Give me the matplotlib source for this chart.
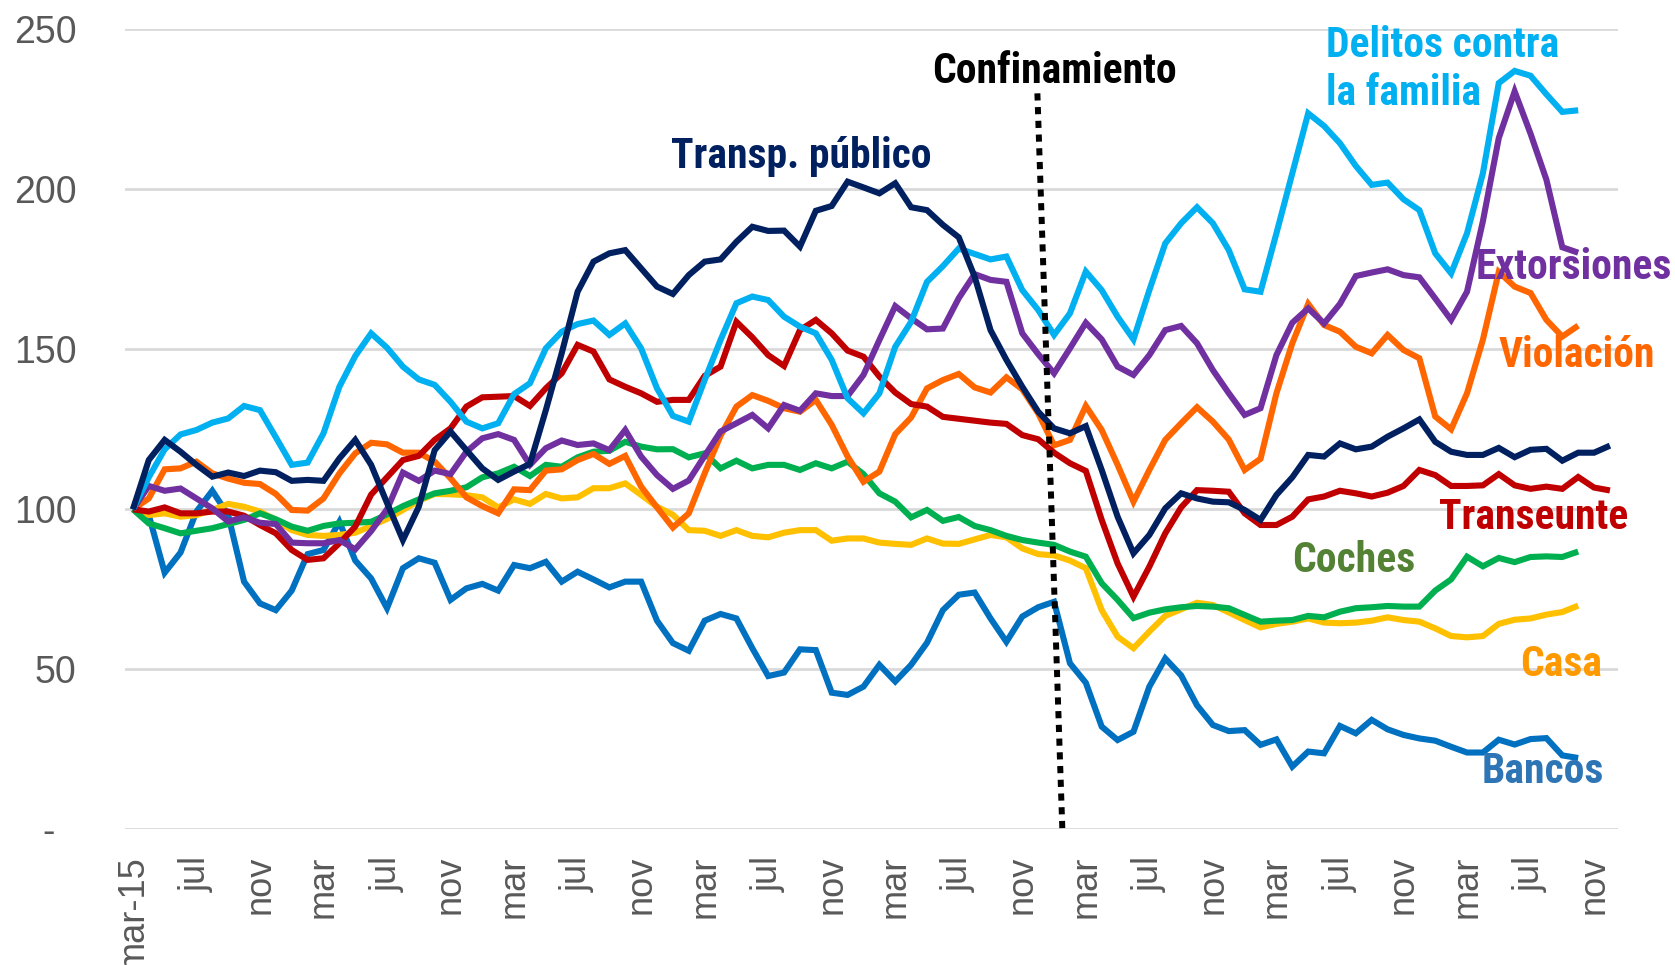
import matplotlib
matplotlib.use("Agg")
import matplotlib.pyplot as plt

# indice (mar-15 = 100), datos mensuales mar-15 ... dic-22
tick_labels = ["mar-15", "jul", "nov", "mar", "jul", "nov", "mar", "jul", "nov",
               "mar", "jul", "nov", "mar", "jul", "nov", "mar", "jul", "nov",
               "mar", "jul", "nov", "mar", "jul", "nov"]
n_categories = 94

transp_publico = [
    100, 115.4, 121.7, 118, 113.9, 110.2, 111.5, 110.4, 112.1, 111.6,
    108.9, 109.2, 108.9, 115.9, 121.7, 113.9, 102, 90.4, 100.8, 118.5,
    124.3, 118.5, 112.8, 109.2, 111.8, 114.2, 131, 148.8, 168, 177.4,
    180, 181, 175.3, 169.6, 167.3, 173.2, 177.4, 178.1, 183.6, 188.3,
    187, 187.1, 182.1, 193.3, 194.8, 202.4, 200.6, 198.75, 201.9, 194.4,
    193.5, 188.9, 185, 172.7, 156, 146.7, 138.3, 130.5, 125.3, 123.75,
    126, 112.3, 97.7, 86.25, 92, 100.3, 105, 103.4, 102.4, 102.2,
    99.8, 96.7, 104.5, 110, 117, 116.5, 120.6, 118.75, 119.6, 122.7,
    125.3, 128.1, 121.1, 118, 117, 117, 119.2, 116.3, 118.6, 118.9,
    115.2, 117.7, 117.7, 119.9]

transeunte = [
    100, 99.3, 100.6, 98.75, 98.75, 99.3, 99.3, 98, 95.1, 92.5,
    87.3, 84.2, 84.7, 89.4, 94.6, 104.6, 110, 115.4, 116.7, 121.7,
    125.3, 132.1, 135, 135.2, 135.4, 132.3, 137.8, 142.5, 151.4, 149.3,
    140.6, 138.3, 136.25, 133.6, 134.2, 134.2, 141.7, 144.6, 158.6, 153.75,
    148.2, 144.8, 156, 159.2, 155, 149.6, 147.7, 141.5, 136.5, 132.9,
    132.1, 128.9, 128.3, 127.7, 127.1, 126.7, 123.2, 121.9, 117.7, 114.4,
    112, 96.7, 83.1, 72.7, 82.1, 92.5, 100.6, 106, 105.8, 105.5,
    98.75, 95.1, 95.1, 97.7, 103.1, 104, 105.8, 105, 104, 105.2,
    107.3, 112.3, 110.7, 107.3, 107.3, 107.5, 111, 107.5, 106.4, 107.1,
    106.4, 110.1, 106.8, 105.9]

delitos_familia = [
    100, 110, 118.75, 123.4, 124.8, 127.1, 128.4, 132.3, 131, 122.5,
    113.9, 114.6, 123.75, 138.3, 147.9, 155, 150.5, 144.6, 140.6, 138.9,
    133.6, 127.4, 125.3, 126.9, 136, 139.4, 150.3, 155.5, 157.9, 159,
    154.5, 158.1, 150.3, 137.8, 129.2, 127.4, 140.4, 152.9, 164.4, 166.5,
    165.4, 160.2, 157.1, 155, 146.7, 134.7, 130, 136.25, 150.8, 158.6,
    171.1, 176, 181.5, 179.8, 178.1, 179, 168.5, 162.3, 154.5, 161.25,
    174.3, 168.5, 160.2, 153.1, 168.5, 183.1, 189.4, 194.4, 189.4, 181,
    168.75, 168, 186.25, 205, 223.75, 219.8, 214.4, 207.3, 201.4, 202.1,
    196.9, 193.5, 180, 173.75, 186.25, 205, 233.2, 237, 235.5, 229.7,
    224.2, 224.7]

extorsiones = [
    100, 107.3, 105.8, 106.5, 103.4, 100.3, 96.2, 97.5, 95.8, 95.4,
    89.6, 89.4, 89.4, 90.4, 87.5, 93.2, 100, 111.5, 108.9, 112.1,
    111, 118, 122.2, 123.5, 121.7, 113.9, 119.1, 121.5, 120.1, 120.6,
    118.5, 124.8, 116.5, 110.7, 106.4, 109, 116.7, 124.3, 126.9, 129.5,
    125.3, 132.6, 130.8, 136.25, 135.4, 135.4, 142, 152.9, 163.5, 159.7,
    156.25, 156.5, 166, 173.5, 171.7, 171.1, 155, 148.5, 142.5, 150.3,
    158.3, 153.1, 144.6, 142, 148.2, 156, 157.3, 151.9, 143.5, 136.3,
    129.5, 131.6, 148.2, 158.3, 162.8, 158.1, 164.2, 172.9, 174, 175,
    173.2, 172.5, 165.9, 159.2, 168, 190, 216, 230.6, 217.4, 203,
    181.9, 180.2]

violacion = [
    100, 103.4, 112.5, 112.8, 114.9, 111.25, 109.6, 108.3, 107.9, 104.8,
    99.8, 99.6, 103.4, 111.2, 117.5, 120.8, 120.3, 117.7, 117.7, 114.9,
    109.7, 103.75, 101, 98.75, 106.25, 106, 112.1, 112.5, 115.4, 117.3,
    114.2, 116.7, 107.1, 100.6, 94.3, 98.75, 111.25, 123, 132.1, 135.7,
    133.9, 131.6, 130.5, 134.2, 126.4, 116.5, 108.6, 111.8, 123.5, 128.7,
    137.8, 140.4, 142.3, 138.1, 136.5, 141.25, 137.5, 130, 120, 121.7,
    132.3, 124.8, 113.9, 102.4, 112.3, 121.7, 126.9, 131.9, 127.4, 121.8,
    112.3, 115.8, 136.25, 151.9, 164.2, 157.6, 155.5, 150.8, 148.75, 154.5,
    149.8, 147.2, 129, 125, 136.25, 153, 174.2, 169.6, 167.6, 159.2,
    154, 157.4]

coches = [
    100, 95.6, 94.1, 92.5, 93.3, 94.1, 95.4, 96.7, 98.75, 96.9,
    94.6, 93.3, 94.8, 95.6, 95.8, 96.1, 98.4, 101, 103.1, 105,
    105.8, 106.9, 110, 111.25, 113.3, 110.4, 113.9, 113.3, 116.25, 118,
    118.3, 121.1, 119.6, 118.75, 118.8, 116.25, 117.5, 112.8, 115.2, 112.8,
    113.9, 113.9, 112.3, 114.4, 112.8, 114.9, 111, 105, 102.4, 97.5,
    99.8, 96.4, 97.6, 94.8, 93.5, 91.7, 90.4, 89.6, 88.9, 86.8,
    85.2, 76.9, 71.7, 66, 67.7, 68.75, 69.4, 69.8, 69.6, 69.1,
    67, 64.9, 65.2, 65.4, 66.7, 66.25, 68, 69.1, 69.4, 69.8,
    69.6, 69.6, 74.6, 78.1, 85.2, 82.2, 84.8, 83.5, 85.1, 85.3,
    85.1, 86.8]

casa = [
    100, 98.2, 98.75, 97.7, 98.2, 99.8, 101.7, 100.8, 99.3, 96.7,
    93.5, 92, 91.7, 92, 92.7, 94.8, 97, 99.8, 102.7, 104.8,
    104.7, 104.4, 103.75, 100.6, 103.1, 101.7, 104.8, 103.4, 103.75, 106.6,
    106.6, 108.1, 104.5, 100.8, 98.3, 93.5, 93.3, 91.7, 93.5, 91.7,
    91.25, 92.7, 93.5, 93.5, 90.2, 90.9, 90.9, 89.6, 89.2, 88.9,
    90.9, 89.3, 89.2, 90.6, 92, 91.25, 87.8, 86, 85.6, 84,
    81.6, 68.5, 60.2, 56.6, 61.8, 66.7, 68.75, 70.8, 70.1, 67.8,
    65.4, 63.1, 64.2, 64.9, 65.9, 64.6, 64.4, 64.6, 65.2, 66.25,
    65.4, 64.9, 62.8, 60.4, 60, 60.4, 64.2, 65.5, 65.9, 67.1,
    67.9, 69.9]

bancos = [
    100, 98.2, 80.2, 86.5, 99.3, 105.8, 98.2, 77.4, 70.6, 68.5,
    74.6, 86, 87.3, 96.1, 84, 78.4, 69.1, 81.6, 84.7, 83.3,
    71.7, 75.3, 76.7, 74.6, 82.6, 81.6, 83.6, 77.4, 80.5, 78.1,
    75.6, 77.4, 77.4, 65.2, 58.2, 55.8, 65.2, 67.3, 65.9, 56.6,
    47.9, 49, 56.25, 56, 42.7, 42, 44.6, 51.4, 46.2, 51.4,
    58.3, 68.5, 73.3, 74, 65.9, 58.6, 66.5, 69.4, 71.1, 51.9,
    45.8, 32.1, 27.9, 30.5, 44.6, 53.4, 48.1, 38.75, 32.6, 30.7,
    31, 26.4, 28.1, 19.6, 24.3, 23.75, 32.3, 30, 34.2, 31.25,
    29.5, 28.4, 27.7, 25.8, 24, 24, 28, 26.5, 28.2, 28.5,
    23.1, 22.3]

series = [
    # (datos, color linea, etiqueta, color texto, x texto, y texto, alineacion)
    (bancos, "#0070C0", "Bancos", "#2E75B6", 88.8, 18.2, "center"),
    (casa, "#FFC000", "Casa", "#FF9900", 89.9, 51.5, "center"),
    (coches, "#00B050", "Coches", "#548235", 76.9, 83.9, "center"),
    (violacion, "#FF6600", "Violación", "#FF6600", 90.9, 148, "center"),
    (transeunte, "#C00000", "Transeunte", "#C00000", 88.2, 97.6, "center"),
    (extorsiones, "#7030A0", "Extorsiones", "#7030A0", 90.75, 175.7, "center"),
    (delitos_familia, "#00B0F0", "Delitos contra\nla familia", "#00B0F0", 75.1, 237.5, "left"),
    (transp_publico, "#002060", "Transp. público", "#002060", 42.1, 210.4, "center"),
]

label_font = ["Roboto Condensed", "Liberation Sans", "DejaVu Sans"]

fig = plt.figure(figsize=(16.75, 9.65), dpi=100)
ax = fig.add_axes([0.0746, 0.1406, 0.8913, 0.8290])

for vals, col, name, tcol, tx, ty, ha in series:
    ax.plot(range(len(vals)), vals, color=col, lw=4.4, solid_joinstyle="miter",
            solid_capstyle="butt")
    ax.text(tx, ty, name, color=tcol, fontsize=30, fontweight="bold",
            family=label_font, ha=ha, va="center", linespacing=1.2,
            clip_on=False)

# linea de confinamiento
ax.plot([56.95, 58.53], [230, -1.3], color="black", lw=4.3,
        linestyle=(0, (1.2, 1.1)), dash_capstyle="butt", clip_on=False, zorder=5)
ax.text(58.0, 236.8, "Confinamiento", color="black", fontsize=30,
        fontweight="bold", family=label_font, ha="center", va="center")

ax.set_xlim(-0.5, n_categories - 0.5)
ax.set_ylim(0, 250)
ax.set_yticks([0, 50, 100, 150, 200, 250])
ax.set_yticklabels(["-  ", "50", "100", "150", "200", "250"])
ax.set_xticks(range(0, n_categories - 1, 4))
ax.set_xticklabels(tick_labels, rotation=90)

ax.grid(axis="y", color="#D9D9D9", lw=2)
ax.set_axisbelow(True)
for s in ax.spines.values():
    s.set_visible(False)
ax.tick_params(axis="y", length=0, pad=35, labelsize=27, labelcolor="#595959")
ax.tick_params(axis="x", length=0, pad=19, labelsize=26, labelcolor="#595959")
for lab in ax.get_xticklabels() + ax.get_yticklabels():
    lab.set_family("Liberation Sans")

fig.savefig("out.png", dpi=100)
